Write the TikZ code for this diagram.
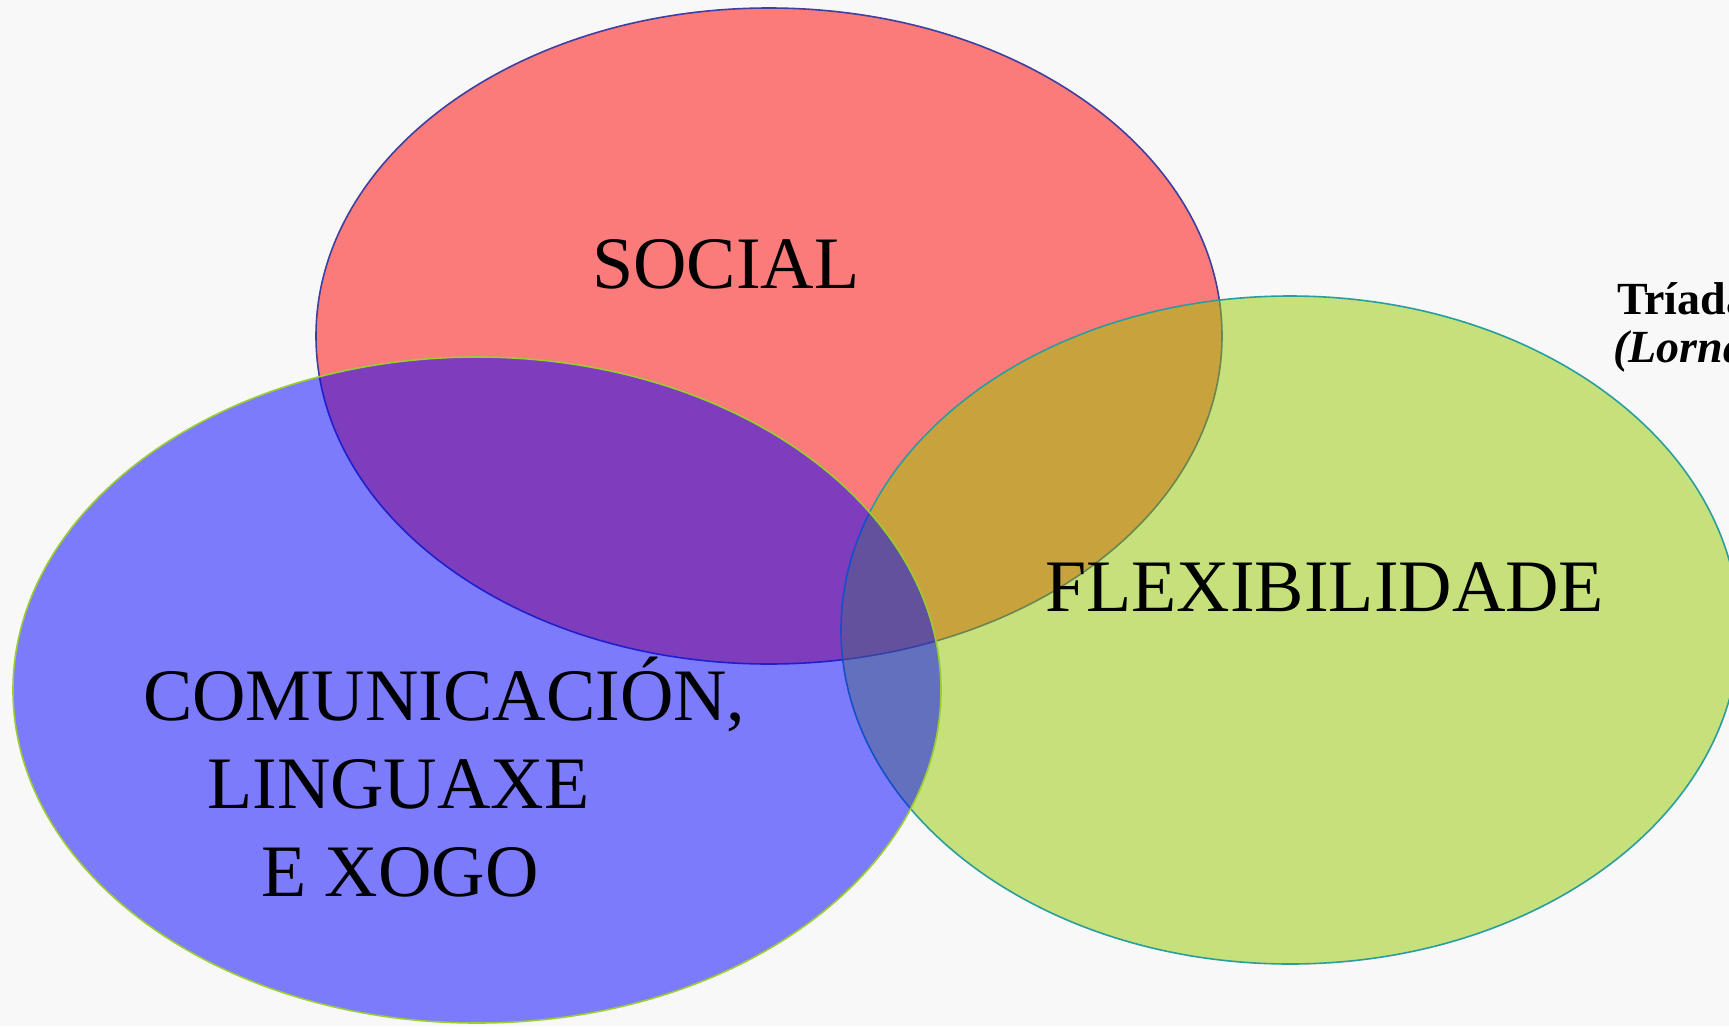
\documentclass[tikz,border=0pt]{standalone}
\usepackage{fontspec}
\setmainfont{Liberation Serif}
\definecolor{bgc}{HTML}{F8F8F8}
\definecolor{redf}{RGB}{255,0,0}
\definecolor{bluef}{RGB}{0,0,255}
\definecolor{greenf}{RGB}{150,204,0}
\definecolor{redb}{HTML}{3F3F9F}
\definecolor{blueb}{HTML}{9ACD32}
\definecolor{greenb}{HTML}{2A9D9D}
\tikzset{
  venn/.style={fill opacity=0.5, line width=1.6pt},
  biglabel/.style={anchor=base west, inner sep=0pt, font=\fontsize{74}{88}\selectfont},
  sidelabel/.style={anchor=base west, inner sep=0pt, font=\fontsize{46}{50}\selectfont\bfseries}
}
\begin{document}
\begin{tikzpicture}[x=1pt,y=-1pt]
\useasboundingbox (0,0) rectangle (1729,1026);
\clip (0,0) rectangle (1729,1026);
\fill[bgc] (0,0) rectangle (1729,1026);
% ellipses: red, green, blue (drawing order gives the overlap colours)
\draw[venn, fill=redf, draw=redb] (769,336) ellipse [x radius=453, y radius=328];
\draw[venn, fill=greenf, draw=greenb] (1290,630) ellipse [x radius=449, y radius=334];
\draw[venn, fill=bluef, draw=blueb] (477,690) ellipse [x radius=464, y radius=333];
% labels
\node[biglabel] (social) at (592,288) {SOCIAL};
\node[biglabel] (flex) at (1045,611) {FLEXIBILIDADE};
\node[biglabel] (com1) at (143,720) {COMUNICACIÓN,};
\node[biglabel] (com2) at (207,808) {LINGUAXE};
\node[biglabel] (com3) at (261,896) {E XOGO};
\node[sidelabel] (triada) at (1617,314) {Tríada};
\node[sidelabel] (lorna) at (1613,362) {\itshape (Lorna};
\end{tikzpicture}
\end{document}
